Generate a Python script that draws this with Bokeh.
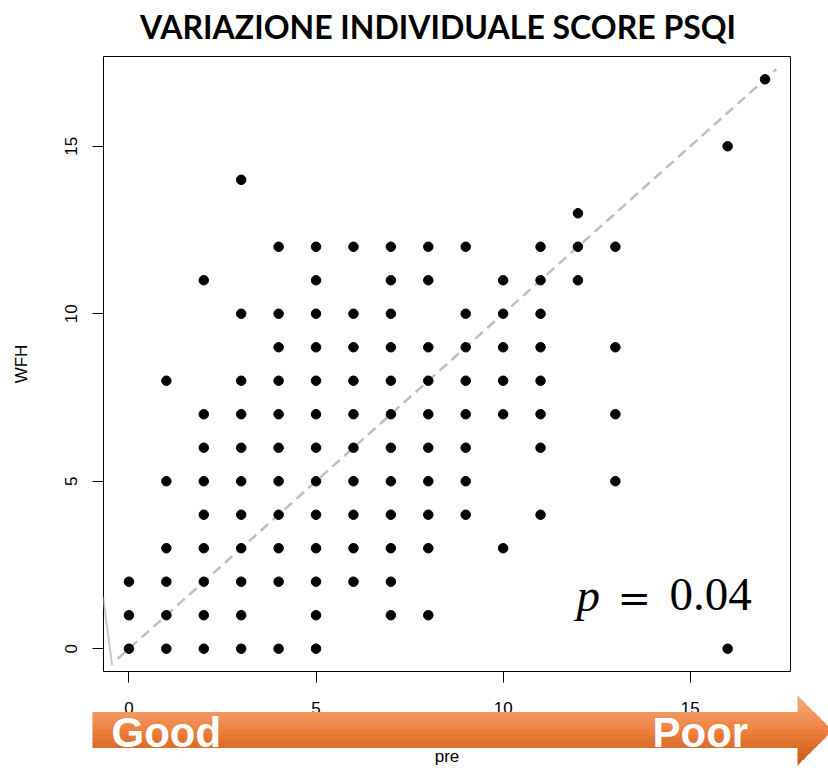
from bokeh.plotting import figure
from bokeh.layouts import column
from bokeh.models import Range1d, FixedTicker, Label
from bokeh.embed import file_html
from bokeh.resources import INLINE

# ---------------- data ----------------
pre = ([0] * 3 + [1] * 6 + [2] * 9 + [3] * 11 + [4] * 11 + [5] * 13 + [6] * 10 + [7] * 12
       + [8] * 10 + [9] * 8 + [10] * 6 + [11] * 8 + [12] * 3 + [13] * 4 + [16] * 2 + [17] * 1)
wfh = [0, 1, 2,
       0, 1, 2, 3, 5, 8,
       0, 1, 2, 3, 4, 5, 6, 7, 11,
       0, 1, 2, 3, 4, 5, 6, 7, 8, 10, 14,
       0, 2, 3, 4, 5, 6, 7, 8, 9, 10, 12,
       0, 1, 2, 3, 4, 5, 6, 7, 8, 9, 10, 11, 12,
       2, 3, 4, 5, 6, 7, 8, 9, 10, 12,
       1, 2, 3, 4, 5, 6, 7, 8, 9, 10, 11, 12,
       1, 3, 4, 5, 6, 7, 8, 9, 11, 12,
       4, 5, 6, 7, 8, 9, 10, 12,
       3, 7, 8, 9, 10, 11,
       4, 6, 7, 8, 9, 10, 11, 12,
       11, 12, 13,
       5, 7, 9, 12,
       0, 15,
       17]
x_ticks = [0, 5, 10, 15]
y_ticks = [0, 5, 10, 15]
identity_line = [-0.3, 17.3]
title_text = "VARIAZIONE INDIVIDUALE SCORE PSQI"
x_label = "pre"
y_label = "WFH"
p_symbol = "p"
p_equals = "="
p_value = "0.04"
scale_labels = ["Good", "Poor"]

W, H = 828, 770

# ---------------- main scatter figure ----------------
p = figure(width=W, height=H, output_backend="svg", toolbar_location=None, title=None,
           x_range=Range1d(-0.68, 17.68), y_range=Range1d(-0.68, 17.68),
           min_border_left=103, min_border_right=38, min_border_top=56, min_border_bottom=99)
p.background_fill_color = "white"
p.border_fill_color = "white"
p.outline_line_color = "black"
p.outline_line_width = 1
p.grid.visible = False

for ax, ticks in ((p.xaxis[0], x_ticks), (p.yaxis[0], y_ticks)):
    ax.ticker = FixedTicker(ticks=ticks)
    ax.axis_line_color = None
    ax.major_tick_out = 11
    ax.major_tick_in = 0
    ax.minor_tick_line_color = None
    ax.major_tick_line_color = "black"
    ax.major_label_text_font = "Liberation Sans"
    ax.major_label_text_font_size = "17px"
    ax.major_label_text_color = "black"
    ax.axis_label_text_font = "Liberation Sans"
    ax.axis_label_text_font_size = "17px"
    ax.axis_label_text_font_style = "normal"
    ax.axis_label_text_color = "black"

p.xaxis.axis_label = x_label
p.xaxis.major_label_standoff = 19
p.xaxis.axis_label_standoff = 30
p.yaxis.axis_label = y_label
p.yaxis.major_label_orientation = "vertical"
p.yaxis.major_label_standoff = 15
p.yaxis.axis_label_standoff = 32

# identity reference line and a small stray grey segment at the left edge
p.line([-0.69, -0.45], [1.55, -0.49], line_color="#c8c8c8", line_width=2)
p.line(identity_line, identity_line, line_color="#bebebe", line_width=2.5, line_dash="10 6")

p.scatter(pre, wfh, size=9.5, color="black", marker="circle")

# ---------------- transparent overlay (pixel coordinates) for title / arrow / p-value ----------------
ov = figure(width=W, height=H, output_backend="svg", toolbar_location=None, title=None,
            x_range=Range1d(0, W), y_range=Range1d(H, 0),
            x_axis_location=None, y_axis_location=None, min_border=0)
ov.background_fill_color = None
ov.border_fill_color = None
ov.outline_line_color = None
ov.grid.visible = False
ov.margin = (-H, 0, 0, 0)
p.frame_align = False
ov.frame_align = False

ov.add_layout(Label(x=437.5, y=26, text=title_text, text_align="center", text_baseline="alphabetic",
                    text_font="Lato", text_font_style="bold",
                    text_font_size="32px", text_color="black"))

ov.add_layout(Label(x=576, y=594, text=p_symbol, text_baseline="alphabetic",
                    text_font="Liberation Serif", text_font_style="italic",
                    text_font_size="47px", text_color="black"))
ov.add_layout(Label(x=617, y=597, text=p_equals, text_baseline="alphabetic",
                    text_font="DejaVu Serif", text_font_size="40px", text_color="black"))
ov.add_layout(Label(x=669, y=594, text=p_value, text_baseline="alphabetic",
                    text_font="Liberation Serif", text_font_size="47px", text_color="black"))

# orange gradient arrow (Good -> Poor) drawn as horizontal bands
R_L, R_R, R_T, R_B = 92, 797, 712, 747
H_T, H_B, TIP_X, TIP_Y = 695, 765, 832, 730
stops = [(695, (246, 172, 124)), (712, (242, 152, 100)), (730, (237, 128, 62)),
         (747, (220, 108, 42)), (765, (196, 90, 26))]


def colour_at(y):
    for (y0, c0), (y1, c1) in zip(stops[:-1], stops[1:]):
        if y0 <= y <= y1:
            t = (y - y0) / (y1 - y0)
            return "#%02x%02x%02x" % tuple(int(round(a + (b - a) * t)) for a, b in zip(c0, c1))
    return "#%02x%02x%02x" % stops[-1][1]


def head_x(y):
    return R_R + (TIP_X - R_R) * (1 - abs(y - TIP_Y) / (TIP_Y - H_T))


def bands(y0, y1, n):
    return [y0 + (y1 - y0) * i / n for i in range(n + 1)]


edges = sorted(set(bands(H_T, R_T, 3) + bands(R_T, TIP_Y, 4) + bands(TIP_Y, R_B, 4) + bands(R_B, H_B, 3)))
band_xs, band_ys, band_cols = [], [], []
for ya, yb in zip(edges[:-1], edges[1:]):
    mid = (ya + yb) / 2
    left = R_L if R_T <= mid <= R_B else R_R
    band_xs.append([left, head_x(ya), head_x(yb), left])
    band_ys.append([ya - 0.4, ya - 0.4, yb + 0.4, yb + 0.4])
    band_cols.append(colour_at(mid))
ov.patches(band_xs, band_ys, fill_color=band_cols, line_color=None)

ov.add_layout(Label(x=111, y=732, text=scale_labels[0], text_baseline="alphabetic",
                    text_font="Liberation Sans", text_font_style="bold",
                    text_font_size="42px", text_color="white"))
ov.add_layout(Label(x=652, y=732, text=scale_labels[1], text_baseline="alphabetic",
                    text_font="Liberation Sans", text_font_style="bold",
                    text_font_size="42px", text_color="white"))

layout = column(p, ov, spacing=0)
open("out.html", "w").write(file_html(layout, INLINE))
